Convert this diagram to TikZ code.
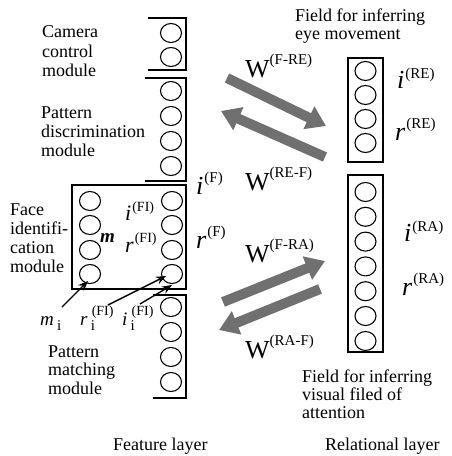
\documentclass[tikz,border=0pt]{standalone}
\usepackage{fontspec}
\setmainfont{Liberation Serif}
\usetikzlibrary{shapes.geometric,arrows.meta}

% font size helper
\newcommand{\fsz}[1]{\fontsize{#1}{#1}\selectfont}
% raised upright parenthesised superscript: raise, size, text
\newcommand{\parsup}[3]{\raisebox{#1}{\fsz{#2}\upshape(#3)}}

\tikzset{
  unit/.style={draw, ellipse, minimum width=21pt, minimum height=19pt, inner sep=0pt, line width=1.1pt},
  box/.style={line width=1.6pt},
  txt/.style={anchor=base west, inner sep=0pt, font=\fsz{18}},
  ptr/.style={line width=1.4pt, -{Stealth[length=10pt,width=8pt]}},
  bigarrow/.style={line width=10pt, draw={rgb,255:red,112;green,112;blue,112},
    -{Triangle[length=19pt,width=24pt]}},
}

\begin{document}
\begin{tikzpicture}[x=1pt,y=-1pt]
\useasboundingbox (0,0) rectangle (451,456);

% ---------------- Feature layer ----------------
% camera control module
\draw[box] (148,18) -- (186,18) -- (186,70) -- (148,70);
\node[unit] (cc1) at (171,33) {};
\node[unit] (cc2) at (171,57) {};
\node[txt] (cam1) at (42,37) {Camera};
\node[txt] (cam2) at (42,57) {control};
\node[txt] (cam3) at (42,76) {module};

% pattern discrimination module
\draw[box] (145,78) -- (186,78) -- (186,181) -- (145,181);
\foreach \k/\y in {1/91,2/116,3/141,4/166} \node[unit] (pd\k) at (171,\y) {};
\node[txt] (pdt1) at (41,118) {Pattern};
\node[txt] (pdt2) at (41,137) {discrimination};
\node[txt] (pdt3) at (41,156) {module};

% face identification module
\draw[box] (72,185) rectangle (186,289);
\foreach \k/\y in {1/201,2/225,3/250,4/274} {
  \node[unit] (fl\k) at (90,\y) {};
  \node[unit] (fr\k) at (172,\y) {};
}
\node[txt] (fit1) at (10,215) {Face};
\node[txt] (fit2) at (10,234) {identifi-};
\node[txt] (fit3) at (10,253) {cation};
\node[txt] (fit4) at (10,272) {module};
\node[txt, font=\fsz{19}\bfseries\itshape] (mlab) at (100,242) {m};
\node[txt, font=\fsz{22}\itshape] (ifi) at (125,220) {i\/\kern1pt\parsup{9pt}{14}{FI}};
\node[txt, font=\fsz{22}\itshape] (rfi) at (125,252) {r\/\kern1pt\parsup{10pt}{14}{FI}};

% pattern matching module
\draw[box] (153,295) -- (186,295) -- (186,398) -- (153,398);
\foreach \k/\y in {1/307,2/332,3/357,4/382} \node[unit] (pm\k) at (171,\y) {};
\node[txt] (pmt1) at (48,357) {Pattern};
\node[txt] (pmt2) at (48,375) {matching};
\node[txt] (pmt3) at (48,394) {module};

% unit labels below the face identification module
\node[txt, font=\fsz{19}\itshape] (mi) at (40,325)
  {m\,\raisebox{-5pt}{\fsz{15}\upshape i}};
\node[txt, font=\fsz{19}\itshape] (ri) at (80,325)
  {r\,\rlap{\raisebox{-5pt}{\fsz{15}\upshape i}}\kern1pt\parsup{10pt}{14}{FI}};
\node[txt, font=\fsz{19}\itshape] (ii) at (122,325)
  {i\,\rlap{\raisebox{-5pt}{\fsz{15}\upshape i}}\kern1pt\parsup{10pt}{14}{FI}};
\coordinate (mi0) at (62,307);
\coordinate (ri0) at (108,305);
\coordinate (ii0) at (140,304);
\coordinate (mi1) at (88,281);
\coordinate (ri1) at (166,276);
\coordinate (ii1) at (172,285);
\draw[ptr] (mi0) -- (mi1);
\draw[ptr] (ri0) -- (ri1);
\draw[ptr] (ii0) -- (ii1);

% feature layer output labels
\node[txt, font=\fsz{26}\itshape] (iF) at (196,194) {i\/\kern1pt\parsup{12pt}{15}{F}};
\node[txt, font=\fsz{26}\itshape] (rF) at (196,248) {r\/\kern1pt\parsup{12pt}{15}{F}};

\node[txt] (flayer) at (113,450) {Feature layer};

% ---------------- Relational layer ----------------
\node[txt] (ret1) at (295,21) {Field for inferring};
\node[txt] (ret2) at (295,39) {eye movement};
\draw[box] (348,58) rectangle (383,162);
\foreach \k/\y in {1/71,2/95,3/119,4/143} \node[unit] (re\k) at (365.5,\y) {};
\node[txt, font=\fsz{26}\itshape] (iRE) at (397,88) {i\/\kern1pt\parsup{10pt}{15}{RE}};
\node[txt, font=\fsz{26}\itshape] (rRE) at (395,140) {r\/\kern1pt\parsup{12pt}{15}{RE}};

\draw[box] (348,175) rectangle (383,352);
\foreach \k/\y in {1/192,2/216.8,3/241.6,4/266.4,5/291.2,6/316,7/341} \node[unit] (ra\k) at (365.5,\y) {};
\node[txt, font=\fsz{26}\itshape] (iRA) at (404,241) {i\/\kern1pt\parsup{10pt}{15}{RA}};
\node[txt, font=\fsz{26}\itshape] (rRA) at (402,295) {r\/\kern1pt\parsup{12pt}{15}{RA}};

\node[txt] (rat1) at (302,382) {Field for inferring};
\node[txt] (rat2) at (302,400) {visual filed of};
\node[txt] (rat3) at (302,418) {attention};

\node[txt] (rlayer) at (325,450) {Relational layer};

% ---------------- connection weights ----------------
\coordinate (freA) at (227,78);
\coordinate (freB) at (326,126);
\coordinate (refA) at (325,157);
\coordinate (refB) at (221,111);
\coordinate (fraA) at (223,302);
\coordinate (fraB) at (325,261);
\coordinate (rafA) at (320,289);
\coordinate (rafB) at (219,330);
\draw[bigarrow] (freA) -- (freB);
\draw[bigarrow] (refA) -- (refB);
\draw[bigarrow] (fraA) -- (fraB);
\draw[bigarrow] (rafA) -- (rafB);

\node[txt, font=\fsz{26}] (wfre) at (245,77) {W\parsup{13pt}{15}{F-RE}};
\node[txt, font=\fsz{26}] (wref) at (245,190) {W\parsup{13pt}{15}{RE-F}};
\node[txt, font=\fsz{26}] (wfra) at (245,262) {W\parsup{13pt}{15}{F-RA}};
\node[txt, font=\fsz{26}] (wraf) at (245,358) {W\parsup{13pt}{15}{RA-F}};
\end{tikzpicture}
\end{document}
